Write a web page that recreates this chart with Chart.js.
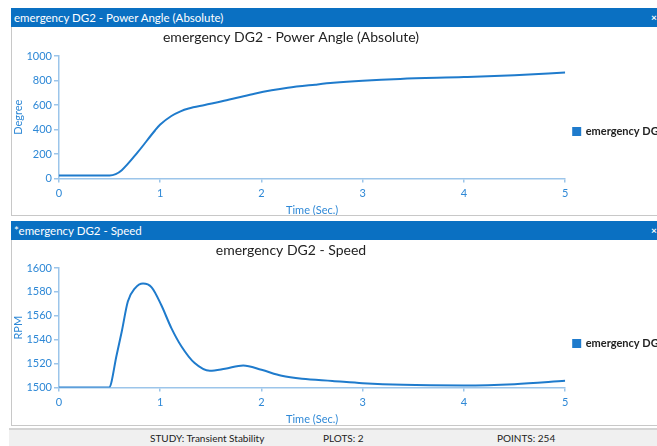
<!DOCTYPE html>
<html><head><meta charset="utf-8">
<script src="https://cdn.jsdelivr.net/npm/chart.js@4.4.1/dist/chart.umd.min.js"></script>
<style>
html,body{margin:0;padding:0;width:657px;height:446px;overflow:hidden;background:#fff;font-family:Lato,"Open Sans",sans-serif;}
.bar{position:absolute;left:11px;width:660px;height:19px;background:#0a70c2;color:#fff;font-size:11.5px;line-height:19px;}
.bar .t{position:absolute;left:3px;top:0;white-space:nowrap}
.bar .x{position:absolute;left:640px;top:0;font-weight:bold;font-size:10px}
.panel{position:absolute;left:11px;width:660px;border-left:1px solid #c8c8c8;border-bottom:1px solid #c8c8c8;overflow:hidden;background:#fff}
.panel canvas{position:absolute;left:0;top:0}
.status{position:absolute;left:9px;top:428px;width:660px;height:18px;background:#f0f0f0;border-top:2px solid #d4d4d4;font-size:10px;color:#222}
.status span{position:absolute;top:2px;white-space:nowrap}
</style></head>
<body>
<div class="bar" style="top:8px"><span class="t" id="bar1"></span><span class="x">×</span></div>
<div class="panel" style="top:27px;height:188px"><canvas id="c1"></canvas></div>
<div class="bar" style="top:221px"><span class="t" id="bar2"></span><span class="x">×</span></div>
<div class="panel" style="top:240px;height:185px"><canvas id="c2"></canvas></div>
<div class="status">
  <span style="left:141px" id="s1"></span>
  <span style="left:314px" id="s2"></span>
  <span style="left:488px" id="s3"></span>
</div>
<script>
// ---- data ----
const timeAngle   = [0, 0.5, 0.56, 0.62, 0.78, 0.95, 1.0, 1.11, 1.2, 1.28, 1.44, 1.61, 1.77, 1.93, 2.10, 2.26, 2.53, 2.71, 3.0, 3.37, 4.0, 4.5, 5.0];
const angleValues = [25, 25, 36, 68, 217, 394, 440, 510, 548, 571, 600, 630, 661, 692, 720, 741, 766, 781, 798, 813, 828, 843, 865];
const timeSpeed   = [0, 0.494, 0.57, 0.62, 0.68, 0.75, 0.83, 0.915, 1.01, 1.11, 1.21, 1.34, 1.49, 1.64, 1.82, 2.0, 2.2, 2.4, 2.7, 3.0, 3.4, 4.0, 4.5, 5.0];
const speedValues = [1500, 1500, 1527.4, 1546.9, 1572, 1583, 1587, 1583.8, 1569, 1549.7, 1534.3, 1520.4, 1514, 1515.7, 1518.4, 1514.8, 1509.8, 1507.3, 1505.5, 1503.6, 1502.2, 1501.7, 1502.8, 1505.6];
const seriesLabel = 'emergency DG2';
const panelTitles = ['emergency DG2 - Power Angle (Absolute)', '*emergency DG2 - Speed'];
const chartTitles = ['emergency DG2 - Power Angle (Absolute)', 'emergency DG2 - Speed'];
const yTitles = ['Degree', 'RPM'];
const xTitle = 'Time (Sec.)';
const yMin = [0, 1500], yMax = [1000, 1600], yStep = [200, 20];
const xMin = 0, xMax = 5, xStep = 1;
const statusTexts = ['STUDY: Transient Stability', 'PLOTS: 2', 'POINTS: 254'];

document.getElementById('bar1').textContent = panelTitles[0];
document.getElementById('bar2').textContent = panelTitles[1];
['s1','s2','s3'].forEach((id,i)=>document.getElementById(id).textContent = statusTexts[i]);

const LINE = '#1f7bcc', TICK = '#2e88d6', AXIS = '#9cc5ea';
const FONT = 'Lato';

const panelTitle = {
  id: 'panelTitle',
  afterDraw(chart, args, o) {
    const ctx = chart.ctx; ctx.save();
    ctx.font = o.font; ctx.fillStyle = o.color; ctx.textAlign = 'center'; ctx.textBaseline = 'middle';
    ctx.fillText(o.text, o.x, o.y); ctx.restore();
  }
};

const mctx = document.createElement('canvas').getContext('2d');
mctx.font = 'bold 11px ' + FONT;
const legendTextW = mctx.measureText(seriesLabel).width;
const PLOT_RIGHT = 555, LEG_PAD = 8, LEG_BOX = 7;
const W = Math.round(PLOT_RIGHT + 2*LEG_PAD + LEG_BOX + 5.5 + legendTextW);

function makeChart(id, times, values, i, H, padTop, titleY) {
  const cv = document.getElementById(id);
  cv.width = W; cv.height = H; cv.style.width = W + 'px'; cv.style.height = H + 'px';
  return new Chart(cv, {
    type: 'line',
    data: { datasets: [{
      label: seriesLabel,
      data: times.map((t, k) => ({x: t, y: values[k]})),
      borderColor: LINE, backgroundColor: LINE, borderWidth: 2,
      pointRadius: 0, cubicInterpolationMode: 'monotone', fill: false
    }]},
    options: {
      responsive: false, animation: false, devicePixelRatio: 1,
      layout: { padding: { top: padTop, left: 0, right: 0, bottom: 0 } },
      plugins: {
        tooltip: { enabled: false },
        title: { display: false },
        panelTitle: { text: chartTitles[i], x: 279, y: titleY, font: '14px ' + FONT, color: '#222' },
        legend: {
          position: 'right', align: 'start',
          title: { display: true, text: '', font: { size: 10, family: FONT }, padding: { top: 50, bottom: 0 } },
          labels: { boxWidth: LEG_BOX, boxHeight: LEG_BOX, padding: LEG_PAD, color: '#222',
                    font: { family: FONT, size: 11, weight: 'bold' } }
        }
      },
      scales: {
        x: {
          type: 'linear', min: xMin, max: xMax,
          ticks: { stepSize: xStep, color: TICK, padding: 4, font: { family: FONT, size: 11 }, callback: v => String(v) },
          grid: { drawOnChartArea: false, drawTicks: true, tickLength: 4, color: AXIS, lineWidth: 1.5 },
          border: { color: AXIS, width: 1.5 },
          title: { display: true, text: xTitle, color: TICK, padding: 0, font: { family: FONT, size: 11 } },
          afterFit: s => { s.height = 38.5; }
        },
        y: {
          min: yMin[i], max: yMax[i],
          ticks: { stepSize: yStep[i], color: TICK, padding: 2, font: { family: FONT, size: 11 }, callback: v => String(v) },
          grid: { drawOnChartArea: false, drawTicks: true, tickLength: 5, color: AXIS, lineWidth: 1.5 },
          border: { color: AXIS, width: 1.5 },
          title: { display: true, text: yTitles[i], color: TICK, padding: 0, font: { family: FONT, size: 11 } },
          afterFit: s => { s.width = 47; }
        }
      }
    },
    plugins: [panelTitle]
  });
}

makeChart('c1', timeAngle, angleValues, 0, 190, 29, 10.5);
makeChart('c2', timeSpeed, speedValues, 1, 186, 28, 10);
</script>
</body></html>
